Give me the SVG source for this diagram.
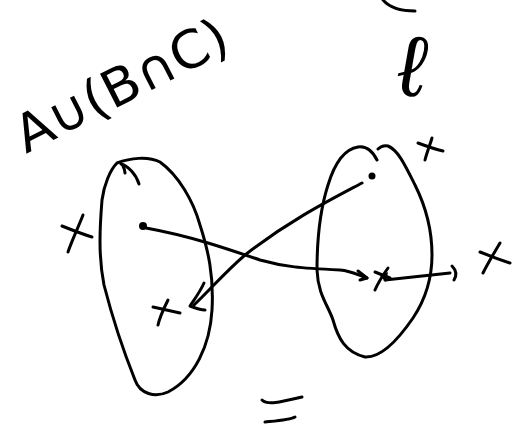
<svg xmlns="http://www.w3.org/2000/svg" width="512" height="430" viewBox="0 0 512 430">
<style>
.s{fill:none;stroke:#000;stroke-width:3;stroke-linecap:round;stroke-linejoin:round}
.t{font-family:"DejaVu Sans","Liberation Sans",sans-serif;fill:#000}
</style>
<rect width="512" height="430" fill="#fff"/>
<g id="expr">
<text class="t" x="0" y="0" font-size="52" textLength="232" lengthAdjust="spacingAndGlyphs" transform="translate(26,154) rotate(-27)">A∪(B∩C)</text>
</g>
<g id="topright">
<path class="s" d="M383,0 C390,8 400,11 415,11"/>
<text x="0" y="0" font-size="86" font-family="'DejaVu Sans ExtraLight','DejaVu Sans',sans-serif" font-weight="200" fill="#000" transform="translate(394,93) rotate(10)">ℓ</text>
</g>
<g id="setA">
<path class="s" d="M117,163 C130,158 148,156 160,162 C178,175 193,200 200,225 C208,250 214,275 212,310 C210,345 195,378 168,392 C155,398 140,394 135,380 C125,355 113,320 104,285 C98,255 100,225 102,200 C104,185 110,170 117,163 Z"/>
<path class="s" d="M121,164 C128,166 136,174 139,184"/>
<path class="s" d="M123,166 C124,168 125,170 125,173"/>
</g>
<g id="setB">
<path class="s" d="M377,160 C372,150 365,146 358,147 C345,149 335,162 328,185 C320,210 317,240 317,270 C318,295 328,305 333,320 C338,338 345,352 365,357 C382,358 400,337 413,318 C425,300 432,280 432,255 C432,230 425,205 415,185 C405,165 398,150 388,146 C384,145 380,147 378,149"/>
</g>
<g id="marks">
<path class="s" d="M62,226 C72,230 82,234 92,237 M83,215 C78,228 72,240 68,252"/>
<path class="s" d="M153,307 C162,309 171,311 180,313 M168,300 C164,308 160,316 158,325"/>
<path class="s" d="M418,143 C426,146 434,149 443,151 M432,138 C430,145 427,152 425,160"/>
<path class="s" d="M480,252 C490,256 500,260 510,263 M500,243 C494,253 488,263 483,273"/>
<path class="s" d="M375,272 C380,274 385,276 390,278 M388,268 C383,275 378,283 375,290"/>
<path d="M380,276 L388,272 L386,282 Z" fill="#000"/>
<circle cx="143" cy="226" r="4" fill="#000"/>
<circle cx="372" cy="176" r="3.5" fill="#000"/>
</g>
<g id="connectors">
<path class="s" d="M146,228 C190,236 225,248 260,260 C285,267 300,268 340,270 C352,271 360,276 367,278"/>
<path class="s" d="M358,271 L367,278 L360,280"/>
<path class="s" d="M362,183 C330,200 290,220 245,255 C225,272 210,290 194,305"/>
<path class="s" d="M204,283 C200,292 194,300 190,306 C195,308 200,310 205,310"/>
<path class="s" d="M385,280 C405,278 430,275 450,273"/>
<path class="s" d="M452,266 C456,270 457,275 454,280"/>
</g>
<g id="eq">
<path class="s" d="M262,400 C268,406 285,401 302,397"/>
<path class="s" d="M265,422 C275,421 290,420 295,417"/>
</g>
</svg>
